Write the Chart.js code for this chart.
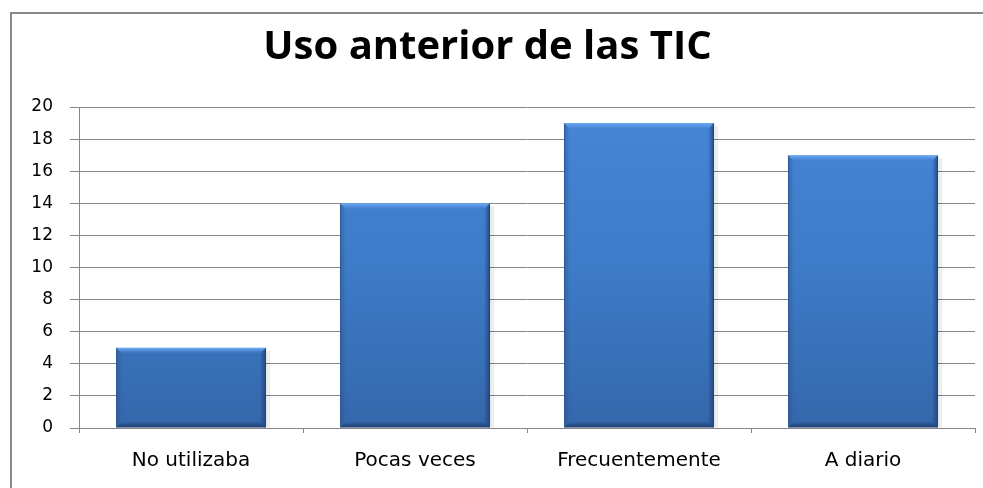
<!DOCTYPE html>
<html>
<head>
<meta charset="utf-8">
<script src="https://cdn.jsdelivr.net/npm/chart.js@4/dist/chart.umd.min.js"></script>
<style>
  html, body { margin: 0; padding: 0; background: #fff; overflow: hidden; }
  #wrap { position: relative; width: 983px; height: 488px; }
  #frame { position: absolute; left: 10px; top: 12px; width: 1000px; height: 500px;
           border: 2px solid #8a8a8a; box-sizing: border-box; }
  canvas { position: absolute; left: 0; top: 0; }
</style>
</head>
<body>
<div id="wrap">
  <div id="frame"></div>
  <canvas id="chart" width="983" height="488"></canvas>
</div>
<script>
// =====================================================
// Data
// =====================================================
const TITLE = "Uso anterior de las TIC";
const categories = ["No utilizaba", "Pocas veces", "Frecuentemente", "A diario"];
const values = [5, 14, 19, 17];
const yTicks = [0, 2, 4, 6, 8, 10, 12, 14, 16, 18, 20];

// =====================================================
// Bar look: vertical gradient + bevelled edges
// =====================================================
function barGradient(ctx){
  const chart = ctx.chart;
  const area = chart.chartArea;
  if(!area) return "#4080d0";
  const el = ctx.element;
  const top = el && el.y !== undefined ? el.y : area.top;
  const bottom = el && el.base !== undefined ? el.base : area.bottom;
  const g = chart.ctx.createLinearGradient(0, top, 0, bottom);
  g.addColorStop(0, "#4686d6");
  g.addColorStop(0.5, "#3e7bc8");
  g.addColorStop(1, "#3467aa");
  return g;
}

const bevel = {
  id: "bevel",
  afterDatasetsDraw(chart){
    const c = chart.ctx;
    const meta = chart.getDatasetMeta(0);
    meta.data.forEach(bar => {
      const w = bar.width, l = bar.x - w / 2, r = bar.x + w / 2;
      const t = bar.y, b = bar.base, e = 6;
      c.save();
      // top highlight
      const gt = c.createLinearGradient(0, t, 0, t + e);
      gt.addColorStop(0, "#6cadf4");
      gt.addColorStop(1, "rgba(90,150,230,0)");
      c.fillStyle = gt;
      c.beginPath();
      c.moveTo(l, t); c.lineTo(r, t); c.lineTo(r - e, t + e); c.lineTo(l + e, t + e);
      c.closePath(); c.fill();
      // left edge
      const gl = c.createLinearGradient(l, 0, l + e, 0);
      gl.addColorStop(0, "rgba(40,80,140,0.55)");
      gl.addColorStop(1, "rgba(40,80,140,0)");
      c.fillStyle = gl;
      c.beginPath();
      c.moveTo(l, t); c.lineTo(l + e, t + e); c.lineTo(l + e, b - e); c.lineTo(l, b);
      c.closePath(); c.fill();
      // right edge
      const gr = c.createLinearGradient(r, 0, r - e, 0);
      gr.addColorStop(0, "rgba(25,55,105,0.75)");
      gr.addColorStop(1, "rgba(25,55,105,0)");
      c.fillStyle = gr;
      c.beginPath();
      c.moveTo(r, t); c.lineTo(r - e, t + e); c.lineTo(r - e, b - e); c.lineTo(r, b);
      c.closePath(); c.fill();
      // bottom edge
      const gb = c.createLinearGradient(0, b, 0, b - e);
      gb.addColorStop(0, "rgba(25,50,95,0.8)");
      gb.addColorStop(1, "rgba(25,50,95,0)");
      c.fillStyle = gb;
      c.beginPath();
      c.moveTo(l, b); c.lineTo(r, b); c.lineTo(r - e, b - e); c.lineTo(l + e, b - e);
      c.closePath(); c.fill();
      // soft shadow on the right
      c.fillStyle = "rgba(0,0,0,0.07)";
      c.fillRect(r, t + 3, 4, b - t - 3);
      c.restore();
    });
  }
};

// =====================================================
// Chart
// =====================================================
new Chart(document.getElementById("chart"), {
  type: "bar",
  data: {
    labels: categories,
    datasets: [{
      data: values,
      backgroundColor: barGradient,
      borderColor: "#2f5c98",
      borderWidth: 1,
      barPercentage: 0.67,
      categoryPercentage: 1
    }]
  },
  plugins: [bevel],
  options: {
    responsive: false,
    animation: false,
    layout: { padding: { left: 0, right: 8, top: 0, bottom: 0 } },
    plugins: {
      legend: { display: false },
      tooltip: { enabled: false },
      title: {
        display: true,
        text: TITLE,
        color: "#000",
        font: { family: "'Open Sans'", size: 40, weight: "bold" },
        padding: { top: 24, bottom: 35 }
      }
    },
    scales: {
      x: {
        offset: true,
        grid: { offset: true, drawOnChartArea: false, color: "#868686", tickLength: 5 },
        border: { color: "#868686", width: 1 },
        ticks: { color: "#000", padding: 15.5, font: { family: "'DejaVu Sans'", size: 20 } }
      },
      y: {
        min: 0,
        max: 20,
        afterBuildTicks: s => { s.ticks = yTicks.map(v => ({ value: v })); },
        afterFit: s => { s.width = 79; },
        grid: { color: "#868686", tickLength: 9 },
        border: { color: "#868686", width: 1 },
        ticks: { color: "#000", padding: 17, font: { family: "'DejaVu Sans'", size: 17 } }
      }
    }
  }
});
</script>
</body>
</html>
